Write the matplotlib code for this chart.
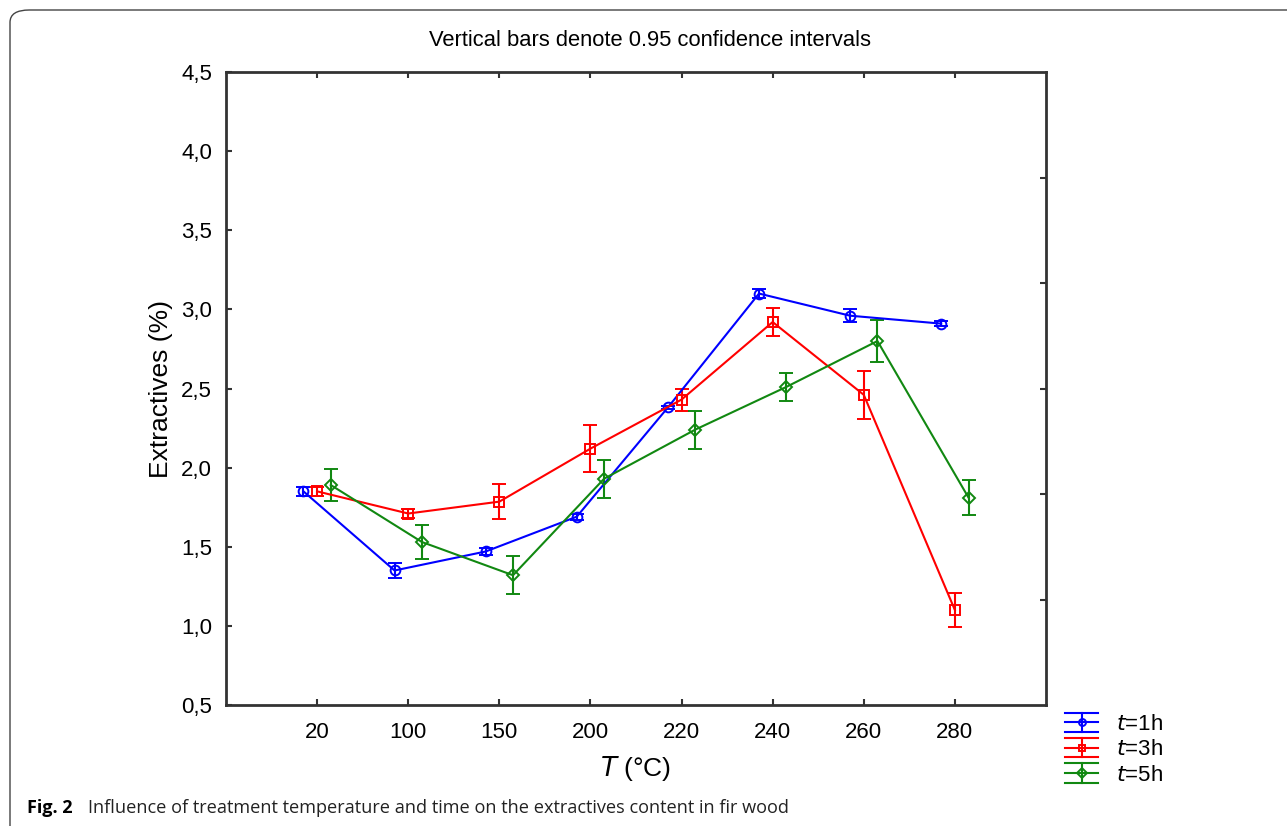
import matplotlib
matplotlib.use('Agg')
import matplotlib.pyplot as plt
from matplotlib.patches import FancyBboxPatch
from matplotlib.legend_handler import HandlerBase
from matplotlib.lines import Line2D
from matplotlib.ticker import FuncFormatter
import numpy as np

plt.rcParams['font.family'] = ['Liberation Sans', 'DejaVu Sans']

temps = ['20', '100', '150', '200', '220', '240', '260', '280']

mean_1h = [1.85, 1.35, 1.47, 1.69, 2.38, 3.10, 2.96, 2.91]
ci_1h = [0.03, 0.05, 0.02, 0.02, 0.01, 0.03, 0.04, 0.015]
mean_3h = [1.85, 1.71, 1.785, 2.12, 2.43, 2.92, 2.46, 1.10]
ci_3h = [0.03, 0.03, 0.11, 0.15, 0.07, 0.09, 0.15, 0.11]
mean_5h = [1.89, 1.53, 1.32, 1.93, 2.24, 2.51, 2.80, 1.81]
ci_5h = [0.10, 0.11, 0.12, 0.12, 0.12, 0.09, 0.13, 0.11]

series = [
    ('t=1h', mean_1h, ci_1h, '#0000ff', 'o', -0.15),
    ('t=3h', mean_3h, ci_3h, '#ff0000', 's', 0.0),
    ('t=5h', mean_5h, ci_5h, '#118811', 'D', 0.15),
]


class ErrHandle:
    def __init__(self, color, marker):
        self.color = color
        self.marker = marker


class HandlerStat(HandlerBase):
    # Statistica-like legend key: line + marker, caps spanning the whole key
    def create_artists(self, legend, orig, xd, yd, w, h, fontsize, trans):
        c = orig.color
        ym = h / 2 - yd
        dy = h * 0.62
        arts = [
            Line2D([-xd, w - xd], [ym, ym], color=c, lw=1.5),
            Line2D([-xd, w - xd], [ym + dy, ym + dy], color=c, lw=1.5),
            Line2D([-xd, w - xd], [ym - dy, ym - dy], color=c, lw=1.5),
            Line2D([w / 2 - xd, w / 2 - xd], [ym - dy, ym + dy], color=c, lw=1.5),
            Line2D([w / 2 - xd], [ym], color=c, marker=orig.marker,
                   markersize=5, markerfacecolor='none', markeredgewidth=1.4),
        ]
        for a in arts:
            a.set_transform(trans)
        return arts


fig = plt.figure(figsize=(12.87, 8.26), dpi=100)

# rounded frame around the figure
frame = FancyBboxPatch((10 / 1287, -0.2), 1.2, 1 - 10 / 826 + 0.2,
                       boxstyle='round,pad=0,rounding_size=0.015',
                       transform=fig.transFigure, fill=False,
                       edgecolor='#444444', linewidth=1.0, clip_on=False)
fig.patches.append(frame)

ax = fig.add_axes([226 / 1287, 1 - 705 / 826, 820 / 1287, 633 / 826])
x = np.arange(1, len(temps) + 1)

for label, mean, ci, color, marker, off in series:
    ax.errorbar(x + off, mean, yerr=ci, color=color, marker=marker,
                markersize=7 if marker != 'D' else 6,
                markerfacecolor='none', markeredgecolor=color,
                markeredgewidth=1.4, linewidth=1.5, capsize=5,
                capthick=1.5, elinewidth=1.5)

ax.set_xlim(0, 9)
ax.set_ylim(0.5, 4.5)
ax.set_xticks(x)
ax.set_xticklabels(temps)
ax.set_yticks(np.arange(0.5, 4.51, 0.5))
ax.yaxis.set_major_formatter(FuncFormatter(lambda v, p: f'{v:.1f}'.replace('.', ',')))
ax.tick_params(direction='in', length=4, width=1.5, labelsize=16, color='#333333',
               top=True)
ax.tick_params(axis='x', pad=12)
ax.tick_params(axis='y', pad=10)
for s in ax.spines.values():
    s.set_linewidth(2)
    s.set_color('#333333')

# right axis ticks (unlabelled, different spacing)
ax2 = ax.twinx()
ax2.set_ylim(0, 6)
ax2.set_yticks([1, 2, 3, 4, 5])
ax2.set_yticklabels([])
ax2.tick_params(direction='in', length=4, width=1.5, color='#333333')
for s in ax2.spines.values():
    s.set_visible(False)

ax.set_ylabel('Extractives (%)', fontsize=19, labelpad=6)
ax.set_xlabel(r'$\it{T}$ (°C)', fontsize=19, labelpad=8)
fig.text(650 / 1287, 1 - 40 / 826, 'Vertical bars denote 0.95 confidence intervals',
         fontsize=15.8, ha='center', va='center')

keys = [ErrHandle(c, m) for _, _, _, c, m, _ in series]
labels = [r'$\it{t}$=1h', r'$\it{t}$=3h', r'$\it{t}$=5h']
fig.legend(keys, labels, loc='upper left',
           bbox_to_anchor=(1045 / 1287, 1 - 694 / 826),
           handler_map={ErrHandle: HandlerStat()},
           frameon=False, fontsize=16, handlelength=1.5, handleheight=0.7,
           labelspacing=0.2, handletextpad=0.8)

fig.text(27 / 1287, 1 - 808 / 826, 'Fig. 2', fontsize=13, fontweight='bold',
         family='Open Sans', va='center')
fig.text(88 / 1287, 1 - 808 / 826,
         'Influence of treatment temperature and time on the extractives content in fir wood',
         fontsize=13.1, family='Open Sans', va='center', color='#222222')

fig.savefig('out.png', dpi=100)
